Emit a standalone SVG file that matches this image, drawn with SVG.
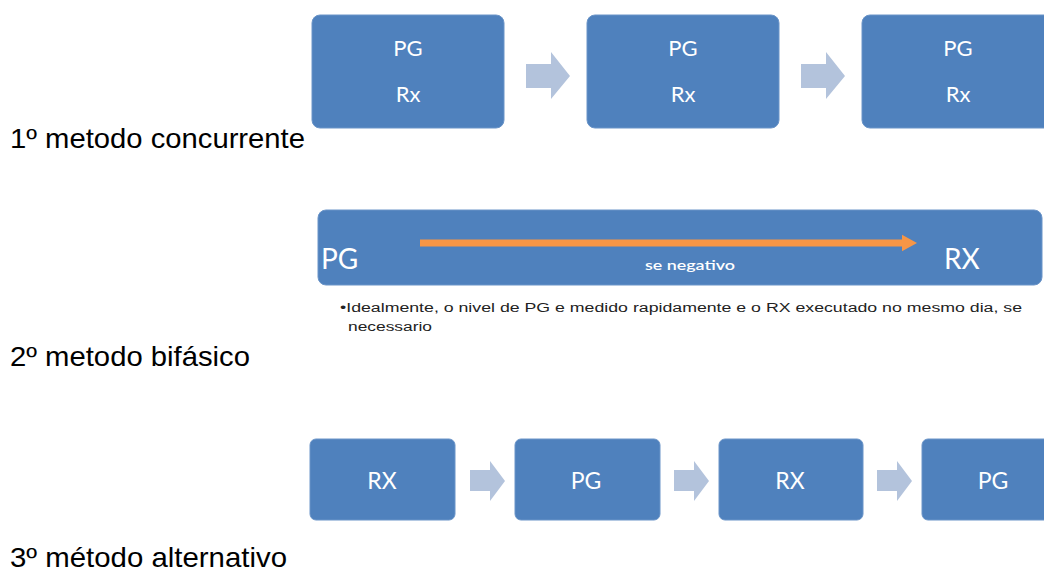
<svg xmlns="http://www.w3.org/2000/svg" width="1044" height="571" viewBox="0 0 1044 571">
<defs>
<style>
.box{fill:#4F81BD;stroke:#6A94C8;stroke-width:1}
.arr{fill:#B3C3DC}
.bt{font-family:Lato,"Open Sans",sans-serif;fill:#FFFFFF;text-anchor:middle}
.lbl{font-family:"Liberation Sans",Arial,sans-serif;font-size:28px;fill:#000000}
.note{font-family:"Liberation Sans",Arial,sans-serif;font-size:12.5px;fill:#222222}
</style>
<marker id="oh" markerWidth="3" markerHeight="3" refX="1.2" refY="1.5" orient="auto" markerUnits="strokeWidth">
<path d="M0,0.3 L2.2,1.5 L0,2.7 Z" fill="#F79646"/>
</marker>
</defs>
<rect width="1044" height="571" fill="#FFFFFF"/>

<g id="labels">
<text class="lbl" x="10" y="148" textLength="295" lengthAdjust="spacingAndGlyphs">1º metodo concurrente</text>
<text class="lbl" x="10" y="366" textLength="240" lengthAdjust="spacingAndGlyphs">2º metodo bifásico</text>
<text class="lbl" x="10" y="567" textLength="277" lengthAdjust="spacingAndGlyphs">3º método alternativo</text>
</g>

<g id="connectors">
<path class="arr" d="M526,64 H551 V52 L570,76 L551,99 V88 H526 Z"/>
<path class="arr" d="M801,64 H826 V52 L845,76 L826,99 V88 H801 Z"/>
<path class="arr" d="M470,470 H490 V461 L505,481 L490,501 V491 H470 Z"/>
<path class="arr" d="M674,470 H694 V461 L709,481 L694,501 V491 H674 Z"/>
<path class="arr" d="M877,470 H897 V461 L912,481 L897,501 V491 H877 Z"/>
</g>

<g id="n1a"><rect class="box" x="312" y="15" width="192" height="113" rx="8"/><text class="bt" x="408" y="56" font-size="22">PG</text><text class="bt" x="408" y="102" font-size="22">Rx</text></g>
<g id="n1b"><rect class="box" x="587" y="15" width="192" height="113" rx="8"/><text class="bt" x="683" y="56" font-size="22">PG</text><text class="bt" x="683" y="102" font-size="22">Rx</text></g>
<g id="n1c"><rect class="box" x="862" y="15" width="192" height="113" rx="8"/><text class="bt" x="958" y="56" font-size="22">PG</text><text class="bt" x="958" y="102" font-size="22">Rx</text></g>

<g id="n2">
<rect class="box" x="318" y="210" width="724" height="75" rx="8"/>
<line x1="420" y1="243" x2="910" y2="243" stroke="#F79646" stroke-width="7" marker-end="url(#oh)"/>
<text class="bt" x="321" y="269" font-size="28" text-anchor="start" style="text-anchor:start">PG</text>
<text class="bt" x="944" y="269" font-size="28" style="text-anchor:start">RX</text>
<text class="bt" x="690" y="270" font-size="14" font-weight="600" textLength="90" lengthAdjust="spacingAndGlyphs">se negativo</text>
</g>
<g id="note">
<text class="note" x="340" y="312" textLength="682" lengthAdjust="spacingAndGlyphs">•Idealmente, o nivel de PG e medido rapidamente e o RX executado no mesmo dia, se</text>
<text class="note" x="348" y="331" textLength="84" lengthAdjust="spacingAndGlyphs">necessario</text>
</g>

<g id="n3a"><rect class="box" x="310" y="439" width="145" height="81" rx="6"/><text class="bt" x="382" y="489" font-size="23">RX</text></g>
<g id="n3b"><rect class="box" x="515" y="439" width="145" height="81" rx="6"/><text class="bt" x="586" y="489" font-size="23">PG</text></g>
<g id="n3c"><rect class="box" x="719" y="439" width="144" height="81" rx="6"/><text class="bt" x="790" y="489" font-size="23">RX</text></g>
<g id="n3d"><rect class="box" x="922" y="439" width="140" height="81" rx="6"/><text class="bt" x="993" y="489" font-size="23">PG</text></g>
</svg>
